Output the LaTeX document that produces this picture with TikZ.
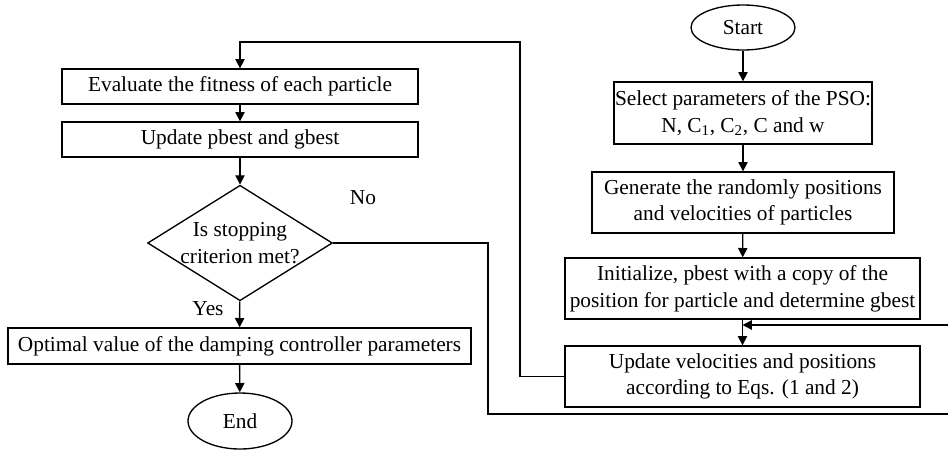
\documentclass[tikz,border=0pt]{standalone}
\usepackage{fontspec}
\setmainfont{Liberation Serif}
\usetikzlibrary{shapes.geometric,arrows.meta}
\tikzset{
  blk/.style 2 args={draw,line width=1pt,rectangle,align=center,inner sep=0pt,
    minimum width=#1*0.75pt,minimum height=#2*0.75pt},
  term/.style 2 args={draw,line width=1pt,ellipse,inner sep=0pt,
    minimum width=#1*0.75pt,minimum height=#2*0.75pt},
  ask/.style={draw,line width=1pt,diamond,aspect=1.6,inner sep=0pt,align=center},
  flow/.style={line width=1pt,-{Triangle[width=7pt,length=7pt]}},
  wire/.style={line width=1pt},
}
\begin{document}
\begin{tikzpicture}[x=0.75pt,y=-0.75pt,font=\fontsize{16}{20}\selectfont]
\useasboundingbox (0,0) rectangle (948,451);
% left column
\node[blk={356}{35}] (eval) at (240,86.5) {Evaluate the fitness of each particle};
\node[blk={356}{35}] (upd) at (240,139.5) {Update pbest and gbest};
\node[ask] (stop) at (240,243) {Is stopping\\criterion met?};
\node[blk={463}{36}] (opt) at (239.5,346) {Optimal value of the damping controller parameters};
\node[term={104}{56}] (end) at (240,421) {End};
\node (no) at (363,198) {No};
\node (yes) at (208,309) {Yes};
% right column
\node[term={104}{45}] (start) at (743,27.5) {Start};
\node[blk={258}{62}] (sel) at (743,113) {Select parameters of the PSO:\\N, C\textsubscript{1}, C\textsubscript{2}, C and w};
\node[blk={302}{61}] (gen) at (743,202.5) {Generate the randomly positions\\and velocities of particles};
\node[blk={355}{61}] (init) at (742.5,288.5) {Initialize, pbest with a copy of the\\position for particle and determine gbest};
\node[blk={355}{61}] (vel) at (742.5,376.5) {Update velocities and positions\\according to Eqs. (1 and 2)};
\coordinate (back) at (948,325);
\coordinate (out) at (948,414);
\draw[flow] (start) -- (sel);
\draw[flow] (sel) -- (gen);
\draw[flow] (gen) -- (init);
\draw[flow] (init) -- (vel);
\draw[flow] (back) -- (init.south |- back);
\draw[flow] (vel.west) -- (520,376.5) |- (240,42) -- (eval.north);
\draw[flow] (eval) -- (upd);
\draw[flow] (upd) -- (stop);
\draw[flow] (stop) -- (opt);
\draw[flow] (opt) -- (end);
\draw[wire] (stop.east) -- (488,243) |- (out);
\end{tikzpicture}
\end{document}
